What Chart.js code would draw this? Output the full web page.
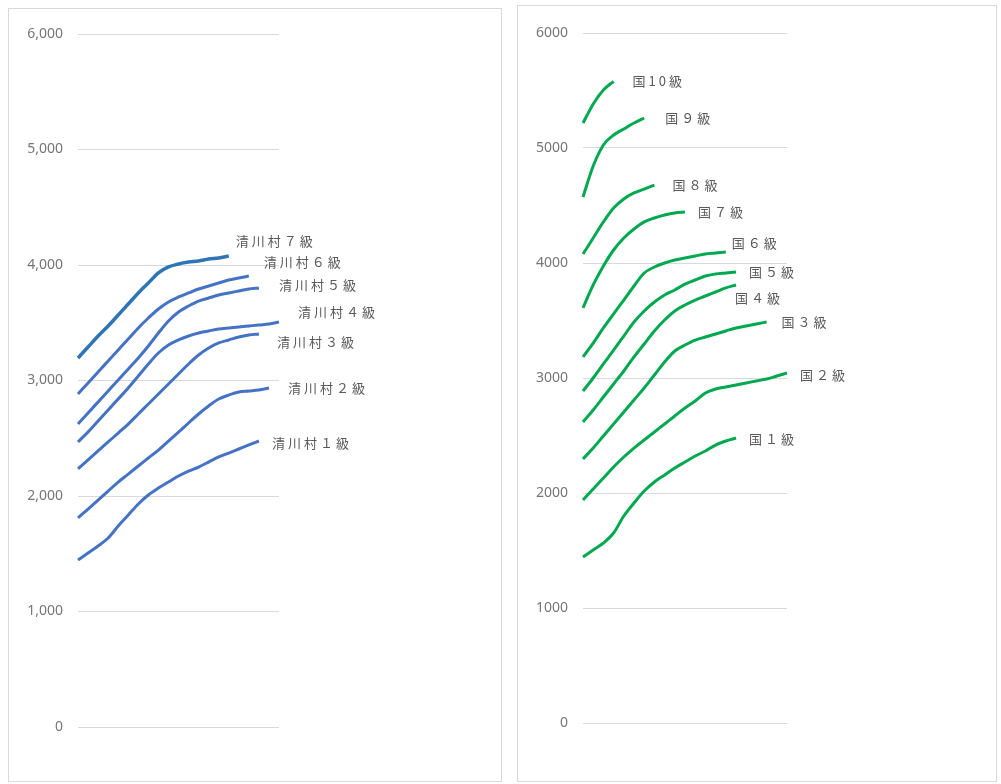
<!DOCTYPE html>
<html>
<head>
<meta charset="utf-8">
<script src="https://cdn.jsdelivr.net/npm/chart.js@4"></script>
<style>
  body { margin: 0; background: #fff; }
  .panel { position: absolute; border: 1px solid #d9d9d9; background: #fff; }
  #leftPanel { left: 8px; top: 8px; width: 492px; height: 772px; }
  #rightPanel { left: 517px; top: 5px; width: 478px; height: 775px; }
</style>
</head>
<body>
<div class="panel" id="leftPanel"><canvas id="kiyokawaChart"></canvas></div>
<div class="panel" id="rightPanel"><canvas id="kuniChart"></canvas></div>
<script>
// step numbers (x axis, hidden)
const steps = ["1","2","3","4","5","6","7","8","9","10","11","12","13","14","15","16","17","18","19","20","21"];
const yTicks = [0, 1000, 2000, 3000, 4000, 5000, 6000];

// 清川村 grades
const kiyokawa7 = [3195, 3290, 3385, 3472, 3567, 3662, 3758, 3844, 3931, 3983, 4009, 4026, 4035, 4052, 4061, 4078];
const kiyokawa6 = [2883, 2978, 3074, 3169, 3264, 3359, 3455, 3541, 3619, 3680, 3723, 3758, 3792, 3818, 3844, 3870, 3887, 3905];
const kiyokawa5 = [2623, 2719, 2814, 2909, 3004, 3100, 3195, 3299, 3411, 3515, 3593, 3645, 3688, 3714, 3740, 3758, 3775, 3792, 3801];
const kiyokawa4 = [2468, 2554, 2649, 2745, 2840, 2935, 3039, 3143, 3238, 3307, 3351, 3385, 3411, 3429, 3446, 3455, 3463, 3472, 3481, 3489, 3506];
const kiyokawa3 = [2234, 2312, 2390, 2468, 2545, 2623, 2710, 2797, 2883, 2970, 3056, 3143, 3221, 3281, 3325, 3351, 3377, 3394, 3403];
const kiyokawa2 = [1810, 1887, 1965, 2043, 2121, 2190, 2260, 2329, 2398, 2476, 2554, 2632, 2710, 2779, 2840, 2874, 2900, 2909, 2918, 2935];
const kiyokawa1 = [1446, 1506, 1567, 1636, 1740, 1835, 1931, 2009, 2069, 2121, 2173, 2216, 2251, 2294, 2338, 2372, 2407, 2442, 2476];
const kiyokawaNames = ["清川村７級", "清川村６級", "清川村５級", "清川村４級", "清川村３級", "清川村２級", "清川村１級"];

// 国 grades
const kuni10 = [5217, 5383, 5504, 5580];
const kuni9 = [4574, 4843, 5026, 5113, 5165, 5217, 5261];
const kuni8 = [4078, 4217, 4357, 4478, 4557, 4609, 4643, 4678];
const kuni7 = [3609, 3809, 3974, 4113, 4217, 4296, 4357, 4391, 4417, 4435, 4443];
const kuni6 = [3183, 3304, 3435, 3557, 3678, 3800, 3913, 3965, 4000, 4026, 4043, 4061, 4078, 4087, 4096];
const kuni5 = [2887, 3000, 3122, 3243, 3365, 3487, 3583, 3661, 3722, 3765, 3817, 3852, 3887, 3904, 3913, 3922];
const kuni4 = [2617, 2722, 2835, 2948, 3061, 3183, 3296, 3409, 3504, 3583, 3635, 3678, 3713, 3748, 3783, 3809];
const kuni3 = [2296, 2391, 2496, 2600, 2704, 2809, 2913, 3026, 3139, 3235, 3287, 3330, 3357, 3383, 3409, 3435, 3452, 3470, 3487];
const kuni2 = [1939, 2035, 2130, 2226, 2313, 2391, 2461, 2530, 2600, 2670, 2739, 2800, 2870, 2904, 2922, 2939, 2957, 2974, 2991, 3017, 3043];
const kuni1 = [1443, 1504, 1565, 1652, 1800, 1913, 2017, 2096, 2157, 2217, 2270, 2322, 2365, 2417, 2452, 2478];
const kuniNames = ["国10級", "国９級", "国８級", "国７級", "国６級", "国５級", "国４級", "国３級", "国２級", "国１級"];

// label offsets from each line's last point
const kiyokawaOffsets = [[7, -15], [15, -14], [20, -3], [19, -10], [18, 8], [19, 0], [13, 2]];
const kuniOffsets = [[19, 0], [21, 0], [18, 0], [13, 0], [6, -9], [13, 0], [-1, 13], [15, 0], [13, 2], [13, 1]];

// draws the series name next to the end of each line
const endLabels = {
    id: "endLabels",
    afterDatasetsDraw(chart, args, opts) {
        const ctx = chart.ctx;
        ctx.save();
        ctx.font = "13px 'Noto Sans CJK JP'";
        ctx.letterSpacing = "3px";
        ctx.fillStyle = "#595959";
        ctx.textAlign = "left";
        ctx.textBaseline = "middle";
        chart.data.datasets.forEach((ds, i) => {
            const pts = chart.getDatasetMeta(i).data;
            const last = pts[ds.data.length - 1];
            const off = opts.offsets[i];
            ctx.fillText(ds.label, last.x + off[0], last.y + off[1]);
        });
        ctx.restore();
    },
};

function makeSets(series, names, colors, widths) {
    return series.map((s, i) => ({
        label: names[i],
        data: s,
        borderColor: colors[i],
        borderWidth: widths[i],
        pointRadius: 0,
        fill: false,
        cubicInterpolationMode: "monotone",
        clip: false,
    }));
}

function makeOptions(padding, offsets, fmt) {
    return {
        responsive: true,
        maintainAspectRatio: false,
        animation: false,
        layout: { padding: padding },
        plugins: {
            legend: { display: false },
            tooltip: { enabled: false },
            endLabels: { offsets: offsets },
        },
        scales: {
            x: { display: false },
            y: {
                min: 0,
                max: 6000,
                afterBuildTicks: (scale) => { scale.ticks = yTicks.map((v) => ({ value: v })); },
                afterFit: (scale) => { scale.width = padding.yWidth; },
                border: { display: false },
                grid: { color: "#d9d9d9", drawTicks: false },
                ticks: {
                    padding: 15,
                    color: "#767676",
                    font: { family: "'Noto Sans'", size: 14 },
                    callback: fmt,
                },
            },
        },
    };
}

const blue = "#4472C4";
new Chart(document.getElementById("kiyokawaChart").getContext("2d"), {
    type: "line",
    data: {
        labels: steps,
        datasets: makeSets(
            [kiyokawa7, kiyokawa6, kiyokawa5, kiyokawa4, kiyokawa3, kiyokawa2, kiyokawa1],
            kiyokawaNames,
            ["#2E75B6", blue, blue, blue, blue, blue, blue],
            [3.5, 3, 3, 3, 3, 3, 3]
        ),
    },
    options: makeOptions({ left: 0, top: 25, right: 222, bottom: 54, yWidth: 69 }, kiyokawaOffsets,
        (v) => v.toLocaleString("en-US")),
    plugins: [endLabels],
});

const green = "#00A94F";
new Chart(document.getElementById("kuniChart").getContext("2d"), {
    type: "line",
    data: {
        labels: steps,
        datasets: makeSets(
            [kuni10, kuni9, kuni8, kuni7, kuni6, kuni5, kuni4, kuni3, kuni2, kuni1],
            kuniNames,
            kuniNames.map(() => green),
            kuniNames.map(() => 3)
        ),
    },
    options: makeOptions({ left: 0, top: 27, right: 209, bottom: 58, yWidth: 65 }, kuniOffsets,
        (v) => String(v)),
    plugins: [endLabels],
});
</script>
</body>
</html>
